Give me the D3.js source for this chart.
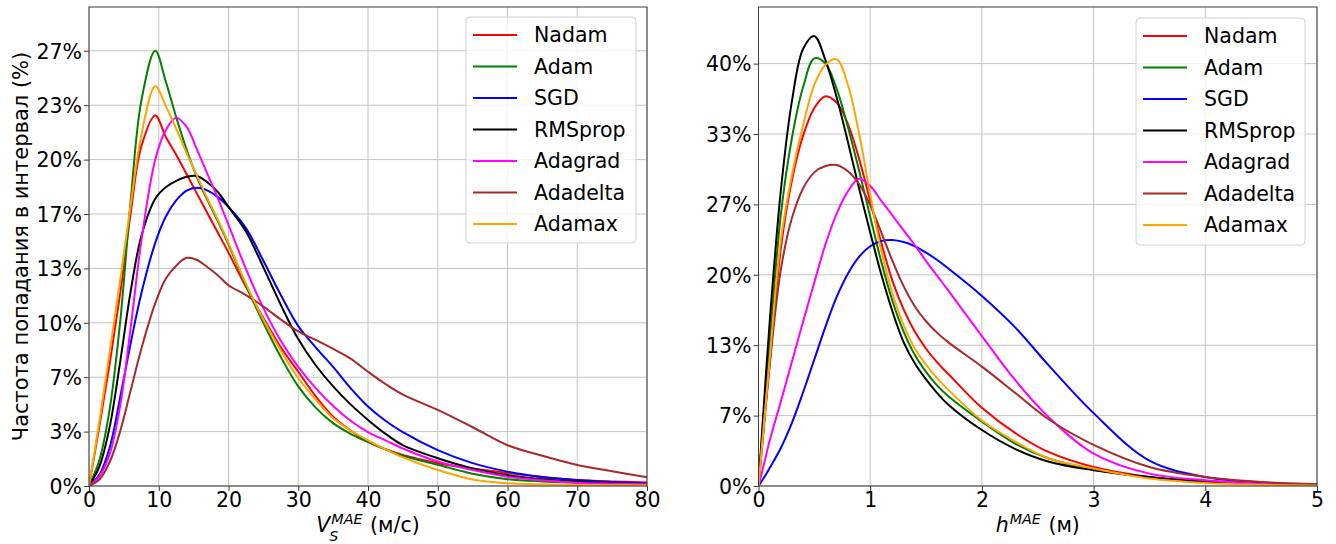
<!DOCTYPE html>
<html>
<head>
<meta charset="utf-8">
<script src="https://cdn.jsdelivr.net/npm/d3@7"></script>
<style>
  body { margin: 0; background: #fff; }
  svg text { font-family: "DejaVu Sans", sans-serif; fill: #000; }
</style>
</head>
<body>
<svg id="chart" width="1336" height="544"></svg>
<script>
// Optimizers and their line colours
const seriesNames  = ["Nadam", "Adam", "SGD", "RMSprop", "Adagrad", "Adadelta", "Adamax"];
const seriesColors = ["#ff0000", "#008000", "#0000ff", "#000000", "#ff00ff", "#a52a2a", "#ffa500"];

// ---- Left panel: V_S^MAE error (m/s), share of hits in interval (%) ----
const speedX = [0, 1.5, 3, 4.5, 6, 7.5, 9.5, 11, 12.5, 14, 15.5, 17, 18.5, 20, 22.5, 25, 27.5, 30,
                32.5, 35, 37.5, 40, 42.5, 45, 50, 55, 60, 65, 70, 75, 80];
const speedNadam    = [0, 3.7, 7.6, 11.9, 16.8, 20.8, 22.7, 21.4, 20.3, 19.1, 17.9, 16.7, 15.5, 14.3, 12.2, 10.3, 8.5, 7.0,
                       5.5, 4.25, 3.4, 2.7, 2.25, 1.9, 1.4, 1.08, 0.8, 0.55, 0.37, 0.28, 0.22];
const speedAdam     = [0, 1.6, 4.8, 10.2, 17.6, 23.6, 26.67, 24.8, 22.6, 20.6, 18.9, 17.5, 16.2, 14.8, 12.3, 10.0, 7.9, 6.1,
                       4.8, 3.85, 3.2, 2.7, 2.25, 1.85, 1.3, 0.75, 0.42, 0.28, 0.2, 0.14, 0.1];
const speedSGD      = [0, 0.7, 2.4, 5.5, 8.8, 11.8, 14.9, 16.5, 17.5, 18.1, 18.27, 18.1, 17.7, 17.1, 15.8, 13.8, 11.7, 9.8,
                       8.5, 7.3, 6.0, 4.87, 4.0, 3.3, 2.2, 1.4, 0.88, 0.55, 0.37, 0.25, 0.16];
const speedRMSprop  = [0, 1.2, 3.7, 7.7, 12.0, 15.3, 17.6, 18.3, 18.7, 18.95, 19.0, 18.6, 18.0, 17.1, 15.6, 13.4, 11.1, 9.0,
                       7.4, 6.1, 5.0, 4.05, 3.2, 2.5, 1.7, 1.08, 0.67, 0.42, 0.27, 0.18, 0.12];
const speedAdagrad  = [0, 0.6, 2.0, 5.0, 9.8, 15.0, 20.0, 21.8, 22.56, 22.0, 20.6, 19.1, 17.6, 16.0, 13.3, 10.9, 8.9, 7.3,
                       6.0, 4.9, 4.0, 3.3, 2.8, 2.3, 1.5, 0.98, 0.57, 0.35, 0.2, 0.14, 0.1];
const speedAdadelta = [0, 0.4, 1.5, 3.4, 5.9, 8.4, 11.2, 12.7, 13.5, 13.98, 13.85, 13.4, 12.9, 12.3, 11.7, 11.0, 10.2, 9.47,
                       8.95, 8.4, 7.8, 7.0, 6.25, 5.6, 4.66, 3.6, 2.5, 1.85, 1.29, 0.9, 0.53];
const speedAdamax   = [0, 4.0, 8.3, 12.7, 17.3, 21.5, 24.5, 23.3, 21.9, 20.4, 19.0, 17.6, 16.3, 14.9, 12.4, 10.2, 8.3, 6.6,
                       5.3, 4.15, 3.4, 2.8, 2.25, 1.75, 0.98, 0.4, 0.17, 0.1, 0.06, 0.05, 0.04];

const speedXTicks      = [0, 10, 20, 30, 40, 50, 60, 70, 80];
const speedYTicks      = [0, 3.333, 6.667, 10, 13.333, 16.667, 20, 23.333, 26.667];
const speedYTickLabels = ["0%", "3%", "7%", "10%", "13%", "17%", "20%", "23%", "27%"];

// ---- Right panel: h^MAE error (m) ----
const heightX = [0, 0.05, 0.1, 0.2, 0.3, 0.4, 0.5, 0.6, 0.7, 0.8, 0.9, 1.0, 1.1, 1.2, 1.3, 1.4, 1.5, 1.6, 1.7,
                 2.0, 2.3, 2.6, 3.0, 3.5, 4.0, 4.5, 5.0];
const heightNadam    = [0, 5.8, 11.5, 22.5, 29.0, 33.2, 35.8, 36.9, 36.3, 34.3, 31.0, 27.0, 23.0, 19.4, 16.7, 14.6, 13.0, 11.7, 10.6,
                        7.4, 5.0, 3.2, 1.8, 0.85, 0.38, 0.17, 0.06];
const heightAdam     = [0, 7, 13.5, 25.7, 33.0, 37.8, 40.5, 40.0, 37.6, 34.0, 29.9, 25.5, 21.2, 17.5, 14.6, 12.4, 10.8, 9.5, 8.5,
                        6.1, 4.0, 2.6, 1.55, 0.8, 0.38, 0.18, 0.06];
const heightSGD      = [0, 0.8, 1.7, 3.6, 6.0, 8.9, 12.0, 15.1, 17.9, 20.1, 21.7, 22.7, 23.2, 23.3, 23.1, 22.7, 22.1, 21.4, 20.6,
                        18.0, 15.0, 11.4, 6.9, 2.4, 0.85, 0.32, 0.16];
const heightRMSprop  = [0, 8, 15.5, 28, 36.5, 41.4, 42.6, 40.3, 36.8, 32.6, 28.2, 24.0, 20.0, 16.5, 13.6, 11.6, 10.1, 8.8, 7.7,
                        5.3, 3.5, 2.3, 1.5, 0.85, 0.4, 0.18, 0.06];
const heightAdagrad  = [0, 2.1, 4.3, 8.0, 11.8, 15.6, 19.3, 22.9, 25.8, 27.9, 29.1, 28.4, 27.0, 25.6, 24.2, 22.8, 21.3, 19.9, 18.5,
                        14.2, 10.0, 6.5, 3.07, 1.17, 0.54, 0.22, 0.06];
const heightAdadelta = [0, 6, 11.5, 20.5, 25.4, 28.2, 29.7, 30.3, 30.4, 29.8, 28.6, 26.6, 24.0, 21.3, 18.9, 17.0, 15.6, 14.5, 13.6,
                        11.3, 8.8, 6.3, 3.9, 1.8, 0.85, 0.38, 0.16];
const heightAdamax   = [0, 6, 12, 23.3, 29.5, 34.2, 38.0, 39.9, 40.4, 38.0, 33.4, 27.6, 22.2, 18.2, 15.2, 13.0, 11.5, 10.2, 9.1,
                        6.2, 4.2, 2.6, 1.65, 0.7, 0.28, 0.12, 0.04];

const heightXTicks      = [0, 1, 2, 3, 4, 5];
const heightYTicks      = [0, 6.667, 13.333, 20, 26.667, 33.333, 40];
const heightYTickLabels = ["0%", "7%", "13%", "20%", "27%", "33%", "40%"];

const yAxisTitle = "Частота попадания в интервал (%)";

// ---- Drawing ----
const FONT = 20.5;
const GRID = "#c4c4c4";
const SPINE = "#3a3a3a";
const svg = d3.select("#chart");
const defs = svg.append("defs");

const panels = [
  {
    id: "speed", left: 89, right: 647, top: 7, bottom: 486,
    xDomain: [0, 80], yDomain: [0, 29.35],
    xs: speedX,
    ys: [speedNadam, speedAdam, speedSGD, speedRMSprop, speedAdagrad, speedAdadelta, speedAdamax],
    xTicks: speedXTicks, yTicks: speedYTicks, yLabels: speedYTickLabels,
    legend: { x: 466, y: 17, w: 170, h: 226 },
    xTitle: [{ t: "V", italic: true }, { sup: "MAE", sub: "S" }, { t: " (м/с)" }]
  },
  {
    id: "height", left: 758.5, right: 1317, top: 7, bottom: 486,
    xDomain: [0, 5], yDomain: [0, 45.36],
    xs: heightX,
    ys: [heightNadam, heightAdam, heightSGD, heightRMSprop, heightAdagrad, heightAdadelta, heightAdamax],
    xTicks: heightXTicks, yTicks: heightYTicks, yLabels: heightYTickLabels,
    legend: { x: 1136, y: 18, w: 169, h: 227 },
    xTitle: [{ t: "h", italic: true }, { sup: "MAE" }, { t: " (м)" }]
  }
];

function drawPanel(p) {
  const x = d3.scaleLinear().domain(p.xDomain).range([p.left, p.right]);
  const y = d3.scaleLinear().domain(p.yDomain).range([p.bottom, p.top]);
  const g = svg.append("g").attr("class", "panel-" + p.id);

  defs.append("clipPath").attr("id", "clip-" + p.id)
    .append("rect")
    .attr("x", p.left).attr("y", p.top)
    .attr("width", p.right - p.left).attr("height", p.bottom - p.top);

  // grid
  const grid = g.append("g").attr("stroke", GRID).attr("stroke-width", 1);
  grid.selectAll("line.gx").data(p.xTicks).join("line")
    .attr("x1", d => x(d)).attr("x2", d => x(d))
    .attr("y1", p.top).attr("y2", p.bottom);
  grid.selectAll("line.gy").data(p.yTicks).join("line")
    .attr("x1", p.left).attr("x2", p.right)
    .attr("y1", d => y(d)).attr("y2", d => y(d));

  // curves
  const line = d3.line()
    .x((d, i) => x(p.xs[i]))
    .y(d => y(d))
    .curve(d3.curveCatmullRom.alpha(0.5));
  g.append("g").attr("clip-path", `url(#clip-${p.id})`)
    .selectAll("path").data(p.ys).join("path")
    .attr("d", line)
    .attr("fill", "none")
    .attr("stroke", (d, i) => seriesColors[i])
    .attr("stroke-width", 2)
    .attr("stroke-linejoin", "round");

  // axes
  const xAxis = g.append("g")
    .attr("transform", `translate(0,${p.bottom})`)
    .call(d3.axisBottom(x).tickValues(p.xTicks).tickFormat(d3.format("d")).tickSize(5).tickSizeOuter(0));
  xAxis.select(".domain").remove();
  xAxis.selectAll("line").attr("stroke", SPINE);
  xAxis.selectAll("text")
    .attr("y", 21).attr("dy", null)
    .attr("font-size", FONT).attr("font-family", "DejaVu Sans").attr("fill", "#000");

  const yAxis = g.append("g")
    .attr("transform", `translate(${p.left},0)`)
    .call(d3.axisLeft(y).tickValues(p.yTicks).tickFormat((d, i) => p.yLabels[i]).tickSize(5).tickSizeOuter(0));
  yAxis.select(".domain").remove();
  yAxis.selectAll("line").attr("stroke", SPINE);
  yAxis.selectAll("text")
    .attr("x", -7).attr("dy", "0.36em")
    .attr("font-size", FONT).attr("font-family", "DejaVu Sans").attr("fill", "#000");

  // frame
  g.append("rect")
    .attr("x", p.left).attr("y", p.top)
    .attr("width", p.right - p.left).attr("height", p.bottom - p.top)
    .attr("fill", "none").attr("stroke", SPINE).attr("stroke-width", 1);

  // x axis title with math-style sub/superscripts
  const tg = g.append("g");
  let cx = 0;
  p.xTitle.forEach(part => {
    if (part.t !== undefined) {
      const t = tg.append("text").attr("x", cx).attr("y", 0)
        .attr("font-size", FONT)
        .attr("font-style", part.italic ? "italic" : "normal")
        .attr("xml:space", "preserve")
        .style("white-space", "pre")
        .text(part.t);
      cx += t.node().getComputedTextLength();
    } else {
      let w = 0;
      if (part.sup) {
        const s = tg.append("text").attr("x", cx + 1).attr("y", -8)
          .attr("font-size", FONT * 0.7).attr("font-style", "italic").text(part.sup);
        w = Math.max(w, s.node().getComputedTextLength());
      }
      if (part.sub) {
        const s = tg.append("text").attr("x", cx - 1).attr("y", 9)
          .attr("font-size", FONT * 0.7).attr("font-style", "italic").text(part.sub);
        w = Math.max(w, s.node().getComputedTextLength());
      }
      cx += w + 2;
    }
  });
  const mid = (p.left + p.right) / 2;
  tg.attr("transform", `translate(${mid - cx / 2},532)`);

  // legend
  const L = p.legend;
  const lg = g.append("g");
  lg.append("rect")
    .attr("x", L.x).attr("y", L.y).attr("width", L.w).attr("height", L.h)
    .attr("rx", 4).attr("ry", 4)
    .attr("fill", "#fff").attr("fill-opacity", 0.8)
    .attr("stroke", "#d0d0d0").attr("stroke-width", 1);
  seriesNames.forEach((name, i) => {
    const cy = L.y + 18 + i * 31.5;
    lg.append("line")
      .attr("x1", L.x + 7).attr("x2", L.x + 51)
      .attr("y1", cy).attr("y2", cy)
      .attr("stroke", seriesColors[i]).attr("stroke-width", 2);
    lg.append("text")
      .attr("x", L.x + 68).attr("y", cy).attr("dy", "0.36em")
      .attr("font-size", FONT).text(name);
  });
}

panels.forEach(drawPanel);

// shared y axis title on the left panel
svg.append("text")
  .attr("transform", `translate(28,${(panels[0].top + panels[0].bottom) / 2}) rotate(-90)`)
  .attr("text-anchor", "middle")
  .attr("font-size", 21)
  .text(yAxisTitle);
</script>
</body>
</html>
